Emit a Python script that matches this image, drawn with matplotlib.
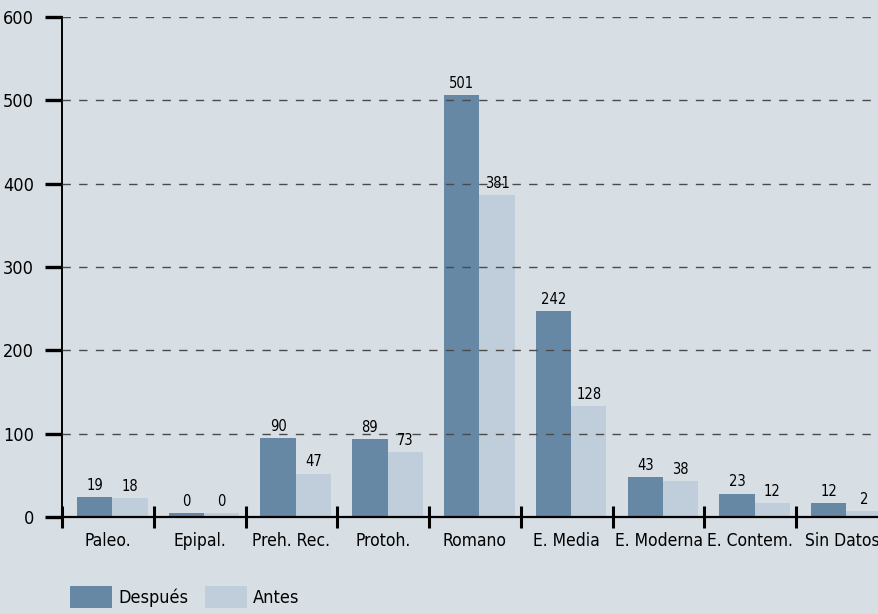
import matplotlib
matplotlib.use('Agg')
import matplotlib.pyplot as plt
import numpy as np

# data
categorias = ['Paleo.', 'Epipal.', 'Preh. Rec.', 'Protoh.', 'Romano',
              'E. Media', 'E. Moderna', 'E. Contem.', 'Sin Datos']
despues = [19, 0, 90, 89, 501, 242, 43, 23, 12]
antes = [18, 0, 47, 73, 381, 128, 38, 12, 2]
yticks = [0, 100, 200, 300, 400, 500, 600]

bg = '#d7dfe5'
c_despues = '#6688a5'
c_antes = '#c0cedb'
pad = 5  # bars in the original sit a few units higher than their labels

# condensed face, closest thing to the original's narrow font
plt.rcParams['font.family'] = ['DejaVu Sans']
plt.rcParams['font.stretch'] = 'condensed'

fig = plt.figure(figsize=(8.79, 6.14), dpi=100, facecolor=bg)
ax = fig.add_axes([62/879, 97/614, 826/879, 500/614])
ax.set_facecolor(bg)

x = np.arange(len(categorias))
w = 0.385
b1 = ax.bar(x + 0.355, np.array(despues) + pad, w, color=c_despues, zorder=2, label='Después')
b2 = ax.bar(x + 0.74, np.array(antes) + pad, w, color=c_antes, zorder=2, label='Antes')

for xi, v in zip(x, despues):
    ax.text(xi + 0.355, v + pad + 5, str(v), ha='center', va='bottom', fontsize=10.5, zorder=4)
for xi, v in zip(x, antes):
    ax.text(xi + 0.74, v + pad + 5, str(v), ha='center', va='bottom', fontsize=10.5, zorder=4)

# dashed grid on top of bars
for t in yticks[1:]:
    ax.axhline(t, color='#4a4a4a', lw=1, ls=(0, (6, 6)), zorder=3)

ax.set_xlim(0, len(categorias))
ax.set_ylim(0, 600)
ax.set_yticks(yticks)
ax.tick_params(axis='y', direction='out', length=12, width=2.4, pad=8, labelsize=13)
ax.set_xticks(x)
ax.set_xticklabels([])
ax.tick_params(axis='x', direction='inout', length=16, width=2.2)
ax.set_xticks(x + 0.5, minor=True)
ax.set_xticklabels(categorias, minor=True, fontsize=12.5)
ax.tick_params(axis='x', which='minor', length=0, pad=11)

for s in ['top', 'right']:
    ax.spines[s].set_visible(False)
ax.spines['left'].set_linewidth(1.4)
ax.spines['bottom'].set_linewidth(1.6)

fig.legend(handles=[b1, b2], loc='lower left', bbox_to_anchor=(54/879, -0.016),
           ncol=2, frameon=False, fontsize=13, handlelength=2.3, handleheight=1.45,
           handletextpad=0.35, columnspacing=0.95)

fig.savefig('out.png', dpi=100, facecolor=bg)
